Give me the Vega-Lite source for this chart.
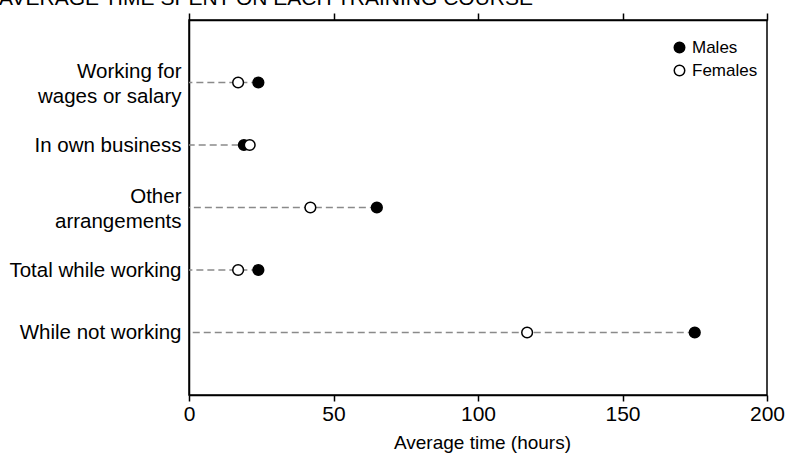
{
  "$schema": "https://vega.github.io/schema/vega-lite/v6.json",
  "autosize": {"type": "none"},
  "padding": {"left": 189, "top": 20, "right": 18, "bottom": 60},
  "width": 578,
  "height": 375,
  "title": {
    "text": "AVERAGE TIME SPENT ON EACH TRAINING COURSE",
    "anchor": "start",
    "frame": "group",
    "dx": -190,
    "offset": -14,
    "baseline": "alphabetic",
    "fontSize": 21,
    "fontWeight": "normal",
    "font": "Liberation Sans",
    "color": "black"
  },
  "config": {
    "font": "Liberation Sans",
    "view": {"stroke": "black", "strokeWidth": 1.5},
    "axis": {
      "domainColor": "black",
      "domainWidth": 1.5,
      "tickColor": "black",
      "tickWidth": 1.5,
      "labelColor": "black",
      "titleColor": "black",
      "grid": false,
      "labelFont": "Liberation Sans",
      "titleFont": "Liberation Sans"
    },
    "legend": {"labelFont": "Liberation Sans"}
  },
  "data": {
    "values": [
      {"category": "Working for wages or salary", "sex": "Males", "hours": 24},
      {"category": "Working for wages or salary", "sex": "Females", "hours": 17},
      {"category": "In own business", "sex": "Males", "hours": 19},
      {"category": "In own business", "sex": "Females", "hours": 21},
      {"category": "Other arrangements", "sex": "Males", "hours": 65},
      {"category": "Other arrangements", "sex": "Females", "hours": 42},
      {"category": "Total while working", "sex": "Males", "hours": 24},
      {"category": "Total while working", "sex": "Females", "hours": 17},
      {"category": "While not working", "sex": "Males", "hours": 175},
      {"category": "While not working", "sex": "Females", "hours": 117}
    ]
  },
  "resolve": {"axis": {"x": "independent"}},
  "layer": [
    {
      "transform": [
        {"aggregate": [{"op": "max", "field": "hours", "as": "maxHours"}], "groupby": ["category"]}
      ],
      "mark": {"type": "rule", "color": "#8a8a8a", "strokeWidth": 1.5, "strokeDash": [7, 4]},
      "encoding": {
        "x": {
          "field": "maxHours",
          "type": "quantitative",
          "scale": {"domain": [0, 200], "nice": false},
          "axis": {
            "orient": "bottom",
            "values": [0, 50, 100, 150, 200],
            "tickSize": 6,
            "labelFontSize": 21,
            "labelFlush": false,
            "labelPadding": 2,
            "title": "Average time (hours)",
            "titleFontSize": 19,
            "titleFontWeight": "normal",
            "titlePadding": 9,
            "titleX": 293
          }
        },
        "x2": {"datum": 0},
        "y": {
          "field": "category",
          "type": "nominal",
          "sort": ["Working for wages or salary", "In own business", "Other arrangements", "Total while working", "While not working"],
          "scale": {"type": "point", "padding": 1},
          "axis": {
            "title": null,
            "ticks": false,
            "labelFontSize": 20.5,
            "labelPadding": 8,
            "labelLineHeight": 25,
            "labelOffset": {
              "condition": {"test": "datum.value == 'Working for wages or salary' || datum.value == 'Other arrangements'", "value": -11},
              "value": 0
            },
            "labelExpr": "datum.value == 'Working for wages or salary' ? ['Working for', 'wages or salary'] : datum.value == 'Other arrangements' ? ['Other', 'arrangements'] : datum.value"
          }
        }
      }
    },
    {
      "mark": {"type": "point", "shape": "circle", "filled": true, "stroke": "black", "strokeWidth": 1.5, "size": 115, "opacity": 1},
      "encoding": {
        "x": {
          "field": "hours",
          "type": "quantitative",
          "axis": {
            "orient": "top",
            "values": [0, 50, 100, 150, 200],
            "labels": false,
            "tickSize": 7,
            "title": null
          }
        },
        "y": {
          "field": "category",
          "type": "nominal",
          "sort": ["Working for wages or salary", "In own business", "Other arrangements", "Total while working", "While not working"]
        },
        "fill": {
          "field": "sex",
          "type": "nominal",
          "scale": {"domain": ["Males", "Females"], "range": ["black", "white"]},
          "legend": {
            "title": null,
            "orient": "none",
            "legendX": 482,
            "legendY": 19,
            "symbolType": "circle",
            "symbolSize": 110,
            "symbolStrokeColor": "black",
            "symbolStrokeWidth": 1.5,
            "labelFontSize": 17,
            "labelColor": "black",
            "labelOffset": 4,
            "rowPadding": 5
          }
        }
      }
    }
  ]
}
